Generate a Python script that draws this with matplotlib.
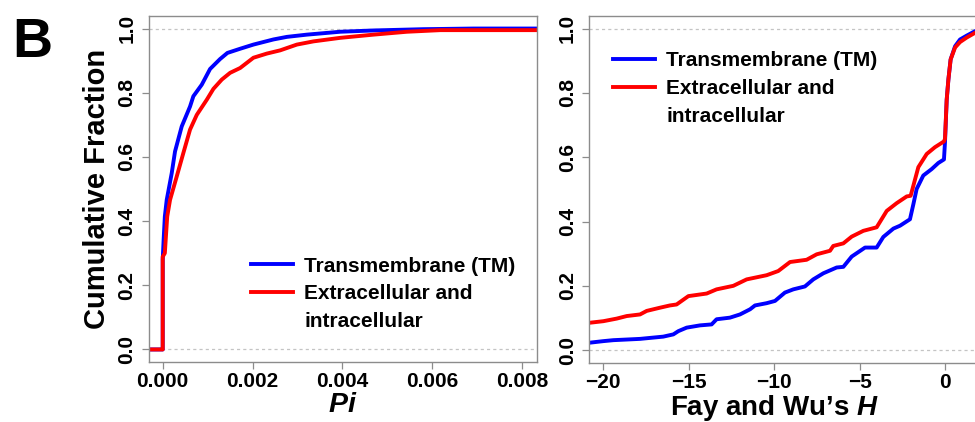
import numpy as np
import matplotlib
matplotlib.use("Agg")
import matplotlib.pyplot as plt
from matplotlib.lines import Line2D

plt.rcParams['font.family'] = ['Liberation Sans', 'DejaVu Sans']
plt.rcParams['font.weight'] = 'bold'
plt.rcParams['axes.labelweight'] = 'bold'
plt.rcParams['mathtext.fontset'] = 'custom'
plt.rcParams['mathtext.it'] = 'Liberation Sans:italic:bold'
plt.rcParams['mathtext.rm'] = 'Liberation Sans:bold'

# ---- panel 1: Pi (ECDF) ----
pi_tm_x = [-0.00031, 0.0, 0.0, 0.00002, 0.000047, 0.000089, 0.0002, 0.000274, 0.000423,
           0.000608, 0.000682, 0.000869, 0.001054, 0.001277, 0.00144, 0.001723, 0.002019,
           0.002465, 0.002763, 0.003209, 0.003951, 0.004693, 0.005807, 0.006921, 0.00834]
pi_tm_y = [0.0, 0.0, 0.28, 0.341, 0.414, 0.466, 0.549, 0.617, 0.695,
           0.757, 0.789, 0.825, 0.874, 0.905, 0.924, 0.937, 0.950,
           0.966, 0.974, 0.981, 0.990, 0.994, 0.998, 1.0, 1.0]

pi_ex_x = [-0.00031, 0.0, 0.0, 0.000047, 0.0001, 0.000163, 0.000312, 0.000459, 0.000608,
           0.000758, 0.00098, 0.001128, 0.001315, 0.0015, 0.001723, 0.002019, 0.002318,
           0.002614, 0.002986, 0.003356, 0.003951, 0.004693, 0.005437, 0.006179, 0.006921, 0.00834]
pi_ex_y = [0.0, 0.0, 0.289, 0.30, 0.414, 0.466, 0.539, 0.612, 0.685,
           0.731, 0.778, 0.812, 0.841, 0.862, 0.877, 0.909, 0.922,
           0.932, 0.950, 0.960, 0.971, 0.981, 0.990, 0.995, 0.995, 0.995]

# ---- panel 2: Fay and Wu's H ----
h_tm_x = [-20.82, -20.0, -19.41, -17.85, -17.27, -16.49, -15.9, -15.61, -15.12, -14.34,
          -13.66, -13.37, -12.59, -12.0, -11.41, -11.12, -10.44, -9.95, -9.37, -8.88,
          -8.2, -7.71, -7.12, -6.34, -5.95, -5.46, -4.68, -4.0, -3.61, -3.02, -2.63,
          -2.05, -1.85, -1.66, -1.27, -0.78, -0.39, -0.06, 0.0, 0.1, 0.2, 0.33, 0.59,
          0.88, 1.27, 1.8]
h_tm_y = [0.023, 0.028, 0.031, 0.035, 0.038, 0.042, 0.049, 0.059, 0.070, 0.077,
          0.080, 0.096, 0.101, 0.111, 0.127, 0.139, 0.146, 0.153, 0.179, 0.189,
          0.198, 0.220, 0.239, 0.257, 0.259, 0.291, 0.319, 0.319, 0.352, 0.378, 0.387,
          0.407, 0.454, 0.501, 0.543, 0.563, 0.582, 0.593, 0.647, 0.779, 0.842, 0.904, 0.945,
          0.966, 0.978, 0.993]

h_ex_x = [-20.82, -20.0, -19.22, -18.63, -17.85, -17.46, -16.68, -16.1, -15.71, -15.02,
          -13.95, -13.37, -12.39, -11.61, -10.44, -9.76, -9.07, -8.1, -7.51, -6.73,
          -6.54, -5.95, -5.46, -4.78, -4.0, -3.41, -2.83, -2.24, -2.01, -1.56, -1.07,
          -0.59, -0.06, 0.0, 0.1, 0.2, 0.33, 0.59, 0.88, 1.27, 1.8]
h_ex_y = [0.085, 0.090, 0.098, 0.106, 0.111, 0.122, 0.132, 0.139, 0.142, 0.168,
          0.176, 0.189, 0.200, 0.220, 0.233, 0.246, 0.274, 0.281, 0.298, 0.309,
          0.324, 0.332, 0.353, 0.371, 0.382, 0.433, 0.457, 0.478, 0.480, 0.569, 0.610,
          0.631, 0.649, 0.657, 0.779, 0.842, 0.904, 0.941, 0.958, 0.972, 0.988]

labels = ["Transmembrane (TM)", "Extracellular and", "intracellular"]
blue = "#0000ff"
red = "#ff0000"
lw = 2.8

fig = plt.figure(figsize=(9.75, 4.22), dpi=100)
W, H = 975, 422
ax1 = fig.add_axes([148.7 / W, (H - 362.3) / H, (536.5 - 148.7) / W, (362.3 - 15.7) / H])
ax2 = fig.add_axes([589.3 / W, (H - 363.0) / H, (987.7 - 589.3) / W, (363.0 - 15.7) / H])


def style(ax):
    for sp in ax.spines.values():
        sp.set_color("#8c8c8c")
        sp.set_linewidth(1.0)
    ax.tick_params(length=5, width=0.9, color="#8c8c8c", labelsize=15, pad=2)
    ax.tick_params(axis='y', pad=4)
    ax.set_ylim(-0.04, 1.04)
    ax.set_yticks([0.0, 0.2, 0.4, 0.6, 0.8, 1.0])
    ax.set_yticklabels(["0.0", "0.2", "0.4", "0.6", "0.8", "1.0"], rotation=90, va='center')
    for yv in (0, 1):
        ax.axhline(yv, color="#c4c4c4", lw=0.9, ls=(0, (2.5, 2.5)), zorder=0)


style(ax1)
ax1.plot(pi_tm_x, pi_tm_y, color=blue, lw=lw)
ax1.plot(pi_ex_x, pi_ex_y, color=red, lw=lw)
ax1.set_xlim(-0.000312, 0.00832)
ax1.set_xticks([0.0, 0.002, 0.004, 0.006, 0.008])
ax1.set_xticklabels(["0.000", "0.002", "0.004", "0.006", "0.008"])
ax1.set_ylabel("Cumulative Fraction", fontsize=21)
ax1.yaxis.set_label_coords(-0.097, 0.5)
ax1.set_xlabel(r"$\mathit{Pi}$", fontsize=20.5)
ax1.xaxis.set_label_coords(0.5, -0.086)

style(ax2)
ax2.plot(h_tm_x, h_tm_y, color=blue, lw=lw)
ax2.plot(h_ex_x, h_ex_y, color=red, lw=lw)
ax2.set_xlim(-20.82, 2.5)
ax2.set_xticks([-20, -15, -10, -5, 0])
ax2.set_xlabel("Fay and Wu\u2019s $\\mathit{H}$", fontsize=20)
ax2.xaxis.set_label_coords(0.466, -0.086)

handles = [Line2D([], [], color=blue, lw=lw), Line2D([], [], color=red, lw=lw),
           Line2D([], [], color="none", lw=lw)]
for ax, anchor in ((ax1, (0.264, 0.305)), (ax2, (0.06, 0.898))):
    ax.legend(handles, labels, loc='upper left', bbox_to_anchor=anchor, frameon=False,
              fontsize=15, handlelength=2.0, handletextpad=0.55, labelspacing=0.42,
              borderaxespad=0, borderpad=0)

fig.text(12 / W, (H - 57) / H, "B", fontsize=40, fontweight='bold', ha='left', va='baseline')

fig.savefig("out.png", dpi=100)
